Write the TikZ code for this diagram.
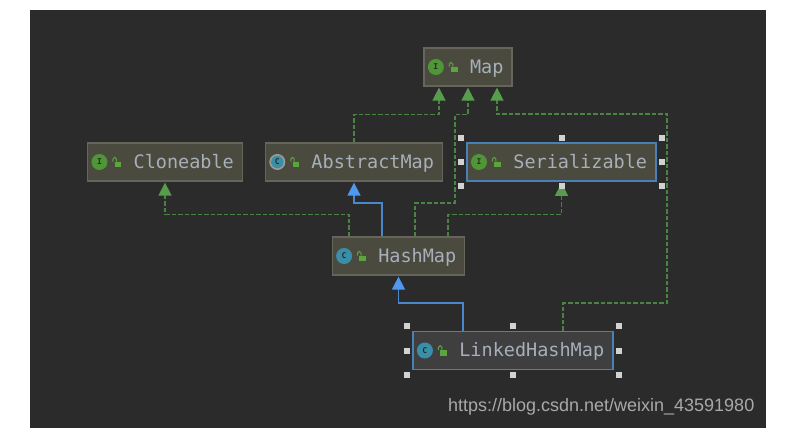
\documentclass[tikz,border=0pt]{standalone}
\usepackage{fontspec}
\setmonofont{DejaVu Sans Mono}
\setsansfont{Liberation Sans}
\usetikzlibrary{arrows.meta,positioning,calc}
\definecolor{panelbg}{HTML}{2B2B2B}
\definecolor{boxfill}{HTML}{4B4A3F}
\definecolor{boxline}{HTML}{66655B}
\definecolor{selfill}{HTML}{3F3F40}
\definecolor{selline}{HTML}{4A80B8}
\definecolor{labeltext}{HTML}{A6AFBA}
\definecolor{implgreen}{HTML}{4A8443}
\definecolor{impltip}{HTML}{589C4E}
\definecolor{iconcircle}{HTML}{4F9636}
\definecolor{lockgreen}{HTML}{5BA53C}
\definecolor{iconclass}{HTML}{3A8FA8}
\definecolor{extblue}{HTML}{4A88CC}
\definecolor{exttip}{HTML}{4F98EE}
\definecolor{handlegrey}{HTML}{D2D2D2}
\definecolor{marktext}{HTML}{A9A9A9}
\tikzset{
	umlbox/.style={draw=boxline, fill=boxfill, line width=1.3pt, text=labeltext, font=\ttfamily\fontsize{18.5pt}{20pt}\selectfont, minimum height=38pt, inner xsep=8.5pt, inner ysep=0pt, text height=14pt, text depth=1.5pt},
	selected/.style={umlbox, draw=selline, line width=1.9pt},
	implements/.style={draw=implgreen, line width=1.6pt, dash pattern=on 4.5pt off 2pt, -{Triangle[length=13pt,width=13pt,color=impltip,fill=impltip]}},
	extends/.style={draw=extblue, line width=1.6pt, -{Triangle[length=13pt,width=13pt,color=exttip,fill=exttip]}},
	kindicon/.style={circle, inner sep=0pt, minimum size=16pt, text=panelbg, font=\ttfamily\bfseries\fontsize{8pt}{8pt}\selectfont},
	lockbody/.style={fill=lockgreen, inner sep=0pt, minimum width=6.6pt, minimum height=5.6pt},
	handle/.style={fill=handlegrey, inner sep=0pt, minimum size=6pt},
}
\newcommand{\umlgap}{\hspace{37.5pt}}
\begin{document}
\begin{tikzpicture}[x=1pt,y=-1pt]
	\useasboundingbox (0,0) rectangle (788,432);
	\fill[white] (0,0) rectangle (788,432);
	\fill[panelbg] (30,9.5) rectangle (766,427.5);

	\node[umlbox] (map) at (468,67) {\umlgap Map};
	\node[umlbox] (cloneable) at (165,162) {\umlgap Cloneable};
	\node[umlbox] (abstractmap) at (354,162) {\umlgap AbstractMap};
	\node[selected] (serializable) at (561.5,162) {\umlgap Serializable};
	\node[umlbox] (hashmap) at (398.5,256) {\umlgap HashMap};
	\node[selected, fill=selfill] (linkedhashmap) at (513,350.5) {\umlgap LinkedHashMap};

	% kind badge and open lock in front of each name
	\foreach \n/\k/\c in {map/I/iconcircle,cloneable/I/iconcircle,serializable/I/iconcircle,hashmap/C/iconclass,linkedhashmap/C/iconclass}{
		\node[kindicon, fill=\c] (\n-kind) at ([xshift=12.5pt]\n.west) {\k};
	}
	\node[kindicon, fill=handlegrey!60!boxfill] (abstractmap-ring) at ([xshift=12.5pt]abstractmap.west) {};
	\node[kindicon, fill=iconclass, minimum size=12.5pt] (abstractmap-kind) at (abstractmap-ring) {C};
	\foreach \n in {map,cloneable,abstractmap,serializable,hashmap,linkedhashmap}{
		\node[lockbody] (\n-lock) at ([xshift=31pt,yshift=-2.5pt]\n.west) {};
		\draw[lockgreen, line width=1pt] ([xshift=-1.5pt]\n-lock.north west) -- ++(0,-2.5) arc[start angle=180, end angle=0, radius=1.7pt] -- ++(0,2.5);
	}

	\draw[implements] (abstractmap.north) -- ++(0,-28) -| ([xshift=-29pt,yshift=-1pt]map.south);
	\draw[implements] ([xshift=16.5pt]hashmap.north) -- ++(0,-33.5) -- ++(40,0) -- ++(0,-88.5) -| ([yshift=-1pt]map.south);
	\draw[implements] ([xshift=50pt]linkedhashmap.north) -- ++(0,-27.5) -- ++(104,0) -- ++(0,-189) -| ([xshift=29pt,yshift=-1pt]map.south);
	\draw[implements] ([xshift=-49.5pt]hashmap.north) -- ++(0,-22) -| ([yshift=-1pt]cloneable.south);
	\draw[implements] ([xshift=49.5pt]hashmap.north) -- ++(0,-22) -| ([yshift=-1pt]serializable.south);
	\draw[extends] ([xshift=-16.5pt]hashmap.north) -- ++(0,-33.5) -| ([yshift=-1pt]abstractmap.south);
	\draw[extends] ([xshift=-50pt]linkedhashmap.north) -- ++(0,-27.5) -| ([yshift=-1pt]hashmap.south);

	% resize handles round the two selected boxes
	\foreach \n in {serializable,linkedhashmap}{
		\node[handle] (\n-nw) at ([xshift=-5pt,yshift=4.5pt]\n.north west) {};
		\node[handle] (\n-n) at ([yshift=4.5pt]\n.north) {};
		\node[handle] (\n-ne) at ([xshift=5pt,yshift=4.5pt]\n.north east) {};
		\node[handle] (\n-w) at ([xshift=-5pt]\n.west) {};
		\node[handle] (\n-e) at ([xshift=5pt]\n.east) {};
		\node[handle] (\n-sw) at ([xshift=-5pt,yshift=-4.5pt]\n.south west) {};
		\node[handle] (\n-s) at ([yshift=-4.5pt]\n.south) {};
		\node[handle] (\n-se) at ([xshift=5pt,yshift=-4.5pt]\n.south east) {};
	}

	\node[text=marktext, font=\sffamily\fontsize{18pt}{20pt}\selectfont, inner sep=0pt, anchor=base east] (watermark) at (754.5,411) {https://blog.csdn.net/weixin\_43591980};
\end{tikzpicture}
\end{document}
